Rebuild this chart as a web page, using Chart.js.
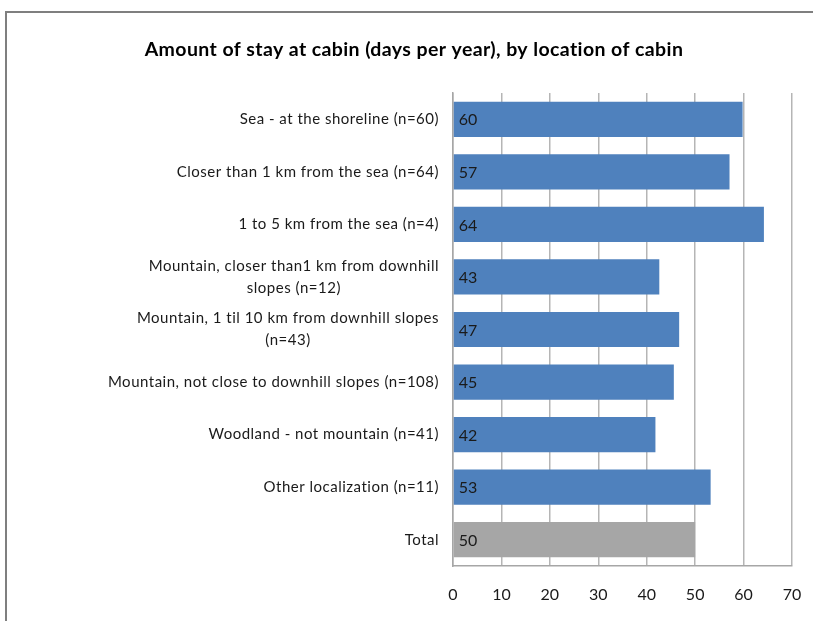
<!DOCTYPE html>
<html>
<head>
<meta charset="utf-8">
<script src="https://cdn.jsdelivr.net/npm/chart.js@4"></script>
<style>
  html, body { margin: 0; padding: 0; background: #fff; }
  #wrap { position: relative; width: 813px; height: 621px; overflow: hidden; }
  #frame { position: absolute; left: 5px; top: 11px; width: 900px; height: 700px; border: 2px solid #7f7f7f; }
  canvas { position: absolute; left: 0; top: 0; }
</style>
</head>
<body>
<div id="wrap">
  <div id="frame"></div>
  <canvas id="chart" width="813" height="621"></canvas>
</div>
<script>
const titleText = "Amount of stay at cabin (days per year), by location of cabin";
const categories = [
  ["Sea - at the shoreline (n=60)"],
  ["Closer than 1 km from the sea (n=64)"],
  ["1 to 5 km from the sea (n=4)"],
  ["Mountain, closer than1 km from downhill", "slopes (n=12)"],
  ["Mountain, 1 til 10 km from downhill slopes", "(n=43)"],
  ["Mountain, not close to downhill slopes (n=108)"],
  ["Woodland - not mountain (n=41)"],
  ["Other localization (n=11)"],
  ["Total"]
];
const values = [59.8, 57.1, 64.2, 42.6, 46.7, 45.6, 41.8, 53.2, 50.0];
const valueLabels = ["60", "57", "64", "43", "47", "45", "42", "53", "50"];
const barColors = ["#4F81BD", "#4F81BD", "#4F81BD", "#4F81BD", "#4F81BD", "#4F81BD", "#4F81BD", "#4F81BD", "#A6A6A6"];
const xTicks = [0, 10, 20, 30, 40, 50, 60, 70];

const FONT = "Lato, 'Open Sans', sans-serif";

// title + category labels drawn by hand: Excel centres wrapped lines inside a right-aligned block
const textLayer = {
  id: "textLayer",
  afterDraw(chart) {
    const { ctx } = chart;
    const y = chart.scales.y;
    ctx.save();
    ctx.fillStyle = "#000";
    ctx.textAlign = "center";
    ctx.textBaseline = "middle";
    ctx.letterSpacing = "0.4px";
    ctx.font = "bold 19.5px " + FONT;
    ctx.fillText(titleText, 414, 50);

    ctx.font = "15px " + FONT;
    ctx.fillStyle = "#1a1a1a";
    ctx.letterSpacing = "0.5px";
    const right = y.right - 14;
    const lh = 22;
    categories.forEach((lines, i) => {
      const w = Math.max(...lines.map(l => ctx.measureText(l).width));
      const cx = right - w / 2;
      const cy = y.getPixelForValue(i);
      const top = cy - (lines.length - 1) * lh / 2;
      lines.forEach((l, j) => ctx.fillText(l, cx, top + j * lh));
    });
    ctx.restore();
  }
};

const valueText = {
  id: "valueText",
  afterDatasetsDraw(chart) {
    const { ctx } = chart;
    ctx.save();
    ctx.font = "16px " + FONT;
    ctx.fillStyle = "#1a1a1a";
    ctx.textAlign = "left";
    ctx.textBaseline = "middle";
    chart.getDatasetMeta(0).data.forEach((bar, i) => {
      ctx.fillText(valueLabels[i], bar.base + 5, bar.y + 1);
    });
    ctx.restore();
  }
};

new Chart(document.getElementById("chart"), {
  type: "bar",
  data: {
    labels: categories.map(c => c.join(" ")),
    datasets: [{
      data: values,
      backgroundColor: barColors,
      barPercentage: 0.67,
      categoryPercentage: 1
    }]
  },
  options: {
    indexAxis: "y",
    responsive: false,
    animation: false,
    layout: { padding: { left: 0, right: 21, top: 93, bottom: 0 } },
    plugins: {
      legend: { display: false },
      tooltip: { enabled: false },
      title: { display: false }
    },
    scales: {
      x: {
        min: 0,
        max: 70,
        afterBuildTicks(scale) { scale.ticks = xTicks.map(v => ({ value: v })); },
        afterFit(scale) {
          scale.height = 55;
          scale.paddingLeft = 0;
          scale.paddingRight = 0;
        },
        grid: { color: "#B5B5B5", lineWidth: 1.5, drawTicks: false },
        border: { display: true, color: "#A6A6A6", width: 1.5 },
        ticks: { color: "#1a1a1a", padding: 19, font: { family: FONT, size: 16 } }
      },
      y: {
        afterFit(scale) { scale.width = 453; },
        grid: { display: false },
        border: { display: true, color: "#A6A6A6", width: 1.5 },
        ticks: { display: false }
      }
    }
  },
  plugins: [valueText, textLayer]
});
</script>
</body>
</html>
